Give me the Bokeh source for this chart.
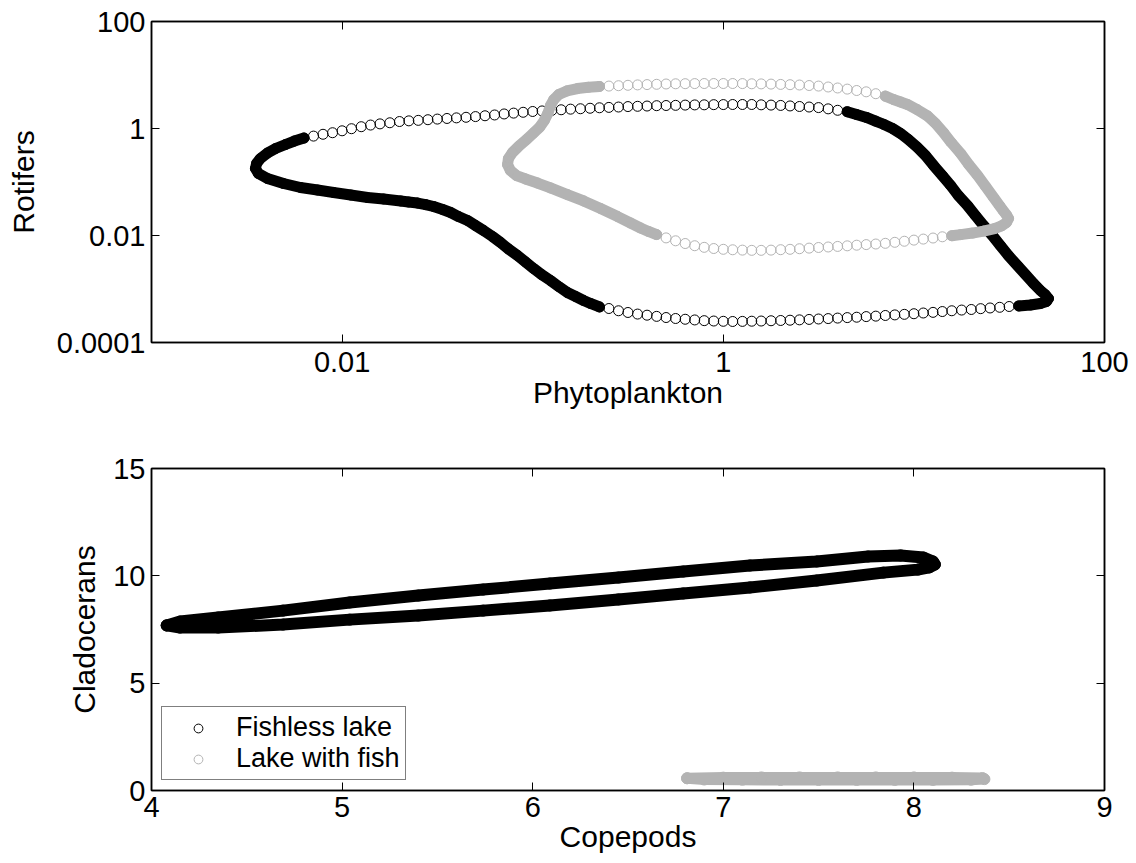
from bokeh.plotting import figure
from bokeh.models import (FixedTicker, LogAxis, LinearAxis, Legend, LegendItem,
                          CustomJSTickFormatter, Range1d)
from bokeh.layouts import column
from bokeh.embed import file_html
from bokeh.resources import INLINE

FONT = "Liberation Sans"
BLACK = "#000000"
GRAY = "#b3b3b3"

# ---------------- Phytoplankton vs rotifers (log-log) ----------------
# Fishless lake: upper arc (fast phase)
fl_up_phyto = [0.00631, 0.00708, 0.00794, 0.00891, 0.0100, 0.0112, 0.0126, 0.0141, 0.0158, 0.0178,
               0.0200, 0.0224, 0.0251, 0.0282, 0.0316, 0.0355, 0.0398, 0.0447, 0.0501, 0.0562,
               0.0631, 0.0708, 0.0794, 0.0891, 0.100, 0.112, 0.126, 0.141, 0.158, 0.178,
               0.200, 0.224, 0.251, 0.282, 0.316, 0.355, 0.398, 0.447, 0.501, 0.562,
               0.631, 0.708, 0.794, 0.891, 1.00, 1.12, 1.26, 1.41, 1.58, 1.78,
               2.00, 2.24, 2.51, 2.82, 3.16, 3.55, 3.98, 4.47]
fl_up_rot = [0.664, 0.721, 0.780, 0.834, 0.906, 0.991, 1.08, 1.16, 1.22, 1.28,
             1.35, 1.39, 1.42, 1.46, 1.50, 1.54, 1.58, 1.62, 1.67, 1.73,
             1.79, 1.87, 1.94, 2.01, 2.08, 2.13, 2.18, 2.24, 2.30, 2.34,
             2.39, 2.44, 2.48, 2.52, 2.57, 2.60, 2.63, 2.67, 2.69, 2.71,
             2.74, 2.76, 2.77, 2.79, 2.80, 2.81, 2.81, 2.81, 2.77, 2.74,
             2.70, 2.64, 2.58, 2.52, 2.46, 2.33, 2.19, 2.06]
# Fishless lake: right-hand descent (slow phase)
fl_right_phyto = [5.00, 5.64, 6.29, 6.93, 7.73, 8.51, 9.37, 10.4, 11.5, 12.7,
                  14.1, 15.6, 17.1, 19.1, 21.0, 23.2, 25.8, 28.4, 31.3, 34.9,
                  38.5, 42.4, 46.1, 49.0, 50.8, 49.6, 46.1, 40.9]
fl_right_rot = [1.83, 1.61, 1.38, 1.20, 1.00, 0.807, 0.622, 0.447, 0.313, 0.203,
                0.132, 0.0861, 0.0560, 0.0364, 0.0237, 0.0154, 0.0100, 0.00650, 0.00423, 0.00275,
                0.00187, 0.00127, 0.000938, 0.000773, 0.000664, 0.000583, 0.000536, 0.000502]
# Fishless lake: lower arc (fast phase)
fl_low_phyto = [35.5, 31.6, 28.2, 25.1, 22.4, 20.0, 17.8, 15.8, 14.1, 12.6,
                11.2, 10.0, 8.91, 7.94, 7.08, 6.31, 5.62, 5.01, 4.47, 3.98,
                3.55, 3.16, 2.82, 2.51, 2.24, 2.00, 1.78, 1.58, 1.41, 1.26,
                1.12, 1.00, 0.891, 0.794, 0.708, 0.631, 0.562, 0.501, 0.447, 0.398,
                0.355, 0.316, 0.282, 0.251, 0.224]
fl_low_rot = [0.000483, 0.000471, 0.000455, 0.000442, 0.000429, 0.000414, 0.000404, 0.000392, 0.000379, 0.000366,
              0.000356, 0.000345, 0.000336, 0.000328, 0.000320, 0.000311, 0.000305, 0.000297, 0.000292, 0.000286,
              0.000280, 0.000275, 0.000270, 0.000265, 0.000261, 0.000258, 0.000255, 0.000252, 0.000250, 0.000248,
              0.000247, 0.000249, 0.000252, 0.000256, 0.000264, 0.000272, 0.000281, 0.000293, 0.000308, 0.000324,
              0.000340, 0.000364, 0.000392, 0.000432, 0.000462]
# Fishless lake: left-hand rise through the minimum of phytoplankton (slow phase)
fl_left_phyto = [0.201, 0.185, 0.168, 0.152, 0.137, 0.124, 0.111, 0.101, 0.0917, 0.0832,
                 0.0746, 0.0678, 0.0615, 0.0552, 0.0501, 0.0455, 0.0408, 0.0371, 0.0337, 0.0302,
                 0.0274, 0.0249, 0.0223, 0.0203, 0.0165, 0.0136, 0.0111, 0.00902, 0.00743, 0.00605,
                 0.00493, 0.00406, 0.00364, 0.00351, 0.00356, 0.00373, 0.00406, 0.00448, 0.00505, 0.00562]
fl_left_rot = [0.000536, 0.000610, 0.000724, 0.000861, 0.00111, 0.00144, 0.00187, 0.00242, 0.00320, 0.00423,
               0.00560, 0.00740, 0.00957, 0.0124, 0.0154, 0.0191, 0.0226, 0.0269, 0.0306, 0.0348,
               0.0379, 0.0404, 0.0423, 0.0442, 0.0481, 0.0513, 0.0571, 0.0637, 0.0708, 0.0789,
               0.0937, 0.116, 0.144, 0.179, 0.222, 0.275, 0.348, 0.423, 0.502, 0.583]

# Lake with fish: upper arc (fast phase)
wf_up_phyto = [0.224, 0.251, 0.282, 0.316, 0.355, 0.398, 0.447, 0.501, 0.562, 0.631,
               0.708, 0.794, 0.891, 1.00, 1.12, 1.26, 1.41, 1.58, 1.78, 2.00,
               2.24, 2.51, 2.82, 3.16, 3.55, 3.98, 4.47, 5.01, 5.62, 6.31, 7.08]
wf_up_rot = [6.10, 6.21, 6.31, 6.42, 6.53, 6.62, 6.70, 6.79, 6.85, 6.88,
             6.91, 6.93, 6.93, 6.93, 6.93, 6.91, 6.85, 6.82, 6.76, 6.67,
             6.59, 6.50, 6.36, 6.21, 5.97, 5.72, 5.45, 5.13, 4.85, 4.47, 4.03]
# Lake with fish: right-hand descent (slow phase)
wf_right_phyto = [7.81, 8.51, 9.25, 10.4, 11.8, 13.0, 14.3, 15.7, 17.6, 19.4,
                  21.6, 23.8, 26.2, 28.1, 29.5, 30.6, 31.4, 30.6, 28.8, 26.5,
                  23.2, 20.3, 17.6]
wf_right_rot = [3.48, 3.13, 2.81, 2.26, 1.71, 1.24, 0.841, 0.547, 0.341, 0.212,
                0.132, 0.0824, 0.0513, 0.0364, 0.0287, 0.0242, 0.0208, 0.0175, 0.0151, 0.0135,
                0.0121, 0.0111, 0.0104]
# Lake with fish: lower arc (fast phase)
wf_low_phyto = [15.8, 14.1, 12.6, 11.2, 10.0, 8.91, 7.94, 7.08, 6.31, 5.62,
                5.01, 4.47, 3.98, 3.55, 3.16, 2.82, 2.51, 2.24, 2.00, 1.78,
                1.58, 1.41, 1.26, 1.12, 1.00, 0.891, 0.794, 0.708, 0.631, 0.562,
                0.501, 0.447]
wf_low_rot = [0.00991, 0.00946, 0.00897, 0.00857, 0.00820, 0.00781, 0.00746, 0.00714, 0.00693, 0.00676,
              0.00659, 0.00641, 0.00625, 0.00610, 0.00597, 0.00581, 0.00566, 0.00552, 0.00543, 0.00533,
              0.00528, 0.00528, 0.00533, 0.00541, 0.00552, 0.00571, 0.00601, 0.00644, 0.00708, 0.00796,
              0.00902, 0.0104]
# Lake with fish: left-hand turn (slow phase)
wf_left_phyto = [0.405, 0.368, 0.326, 0.279, 0.227, 0.185, 0.152, 0.124, 0.106, 0.0917,
                 0.0822, 0.0764, 0.0738, 0.0746, 0.0783, 0.0843, 0.0927, 0.101, 0.109, 0.115,
                 0.120, 0.124, 0.129, 0.137, 0.151, 0.172, 0.196]
wf_left_rot = [0.0119, 0.0138, 0.0171, 0.0226, 0.0320, 0.0442, 0.0583, 0.0773, 0.0957, 0.114,
               0.132, 0.164, 0.212, 0.275, 0.356, 0.461, 0.622, 0.824, 1.07, 1.41,
               1.91, 2.69, 3.48, 4.32, 5.03, 5.59, 5.89]

# ---------------- Copepods vs cladocerans (linear) ----------------
fl_copepods = [4.08, 4.15, 4.35, 4.69, 5.04, 5.40, 5.74, 6.09, 6.45, 6.79,
               7.14, 7.49, 7.76, 7.93, 8.05, 8.10, 8.11, 8.08, 8.02, 7.84,
               7.49, 7.14, 6.79, 6.45, 6.09, 5.74, 5.40, 5.04, 4.69, 4.35,
               4.15, 4.08]
fl_cladocerans = [7.69, 7.87, 8.06, 8.38, 8.76, 9.08, 9.36, 9.64, 9.92, 10.20,
                  10.48, 10.67, 10.90, 10.95, 10.85, 10.67, 10.53, 10.39, 10.29, 10.15,
                  9.78, 9.46, 9.18, 8.90, 8.62, 8.38, 8.15, 7.96, 7.73, 7.59,
                  7.59, 7.69]
wf_copepods = [6.81, 7.00, 7.20, 7.40, 7.60, 7.80, 8.00, 8.20, 8.36, 8.37,
               8.30, 8.10, 7.90, 7.70, 7.50, 7.30, 7.10, 6.90, 6.81]
wf_cladocerans = [0.57, 0.60, 0.61, 0.61, 0.61, 0.61, 0.61, 0.60, 0.58, 0.53,
                  0.50, 0.49, 0.49, 0.49, 0.49, 0.49, 0.50, 0.51, 0.57]

top_xticks = [0.01, 1, 100]
top_yticks = [0.0001, 0.01, 1, 100]
bot_xticks = [4, 5, 6, 7, 8, 9]
bot_yticks = [0, 5, 10, 15]

fmt_code = "return String(tick);"


def style_axis(ax, ticks, standoff, label_standoff=0, show_labels=True):
    ax.ticker = FixedTicker(ticks=ticks)
    ax.major_tick_in = 8
    ax.major_tick_out = 0
    ax.minor_tick_in = 0
    ax.minor_tick_out = 0
    ax.axis_line_color = BLACK
    ax.axis_line_width = 1.5
    ax.major_tick_line_color = BLACK
    ax.major_tick_line_width = 1
    ax.formatter = CustomJSTickFormatter(code=fmt_code)
    ax.major_label_text_font = FONT
    ax.axis_label_text_font = FONT
    ax.axis_label_text_font_size = "30px"
    ax.axis_label_text_font_style = "normal"
    ax.axis_label_text_color = BLACK
    ax.axis_label_standoff = label_standoff
    if show_labels:
        ax.major_label_text_color = BLACK
        ax.major_label_text_font_size = "29px"
        ax.major_label_standoff = standoff
    else:
        # mirrored box side: tick marks only, no tick text painted
        ax.major_label_text_color = None
        ax.major_label_text_font_size = "1px"
        ax.major_label_standoff = 0


def base_fig(height, top, bottom, **kw):
    p = figure(width=1136, height=height, output_backend="svg", toolbar_location=None,
               min_border_left=151, min_border_right=32, min_border_top=top,
               min_border_bottom=bottom, **kw)
    p.grid.visible = False
    p.outline_line_color = BLACK
    p.outline_line_width = 1.5
    p.background_fill_color = "white"
    p.border_fill_color = "white"
    return p


def slow_line(p, xs, ys, color, width):
    p.line(xs, ys, line_color=color, line_width=width, line_cap="round", line_join="round")


def rings(p, xs, ys, color, size):
    return p.scatter(xs, ys, marker="circle", size=size, fill_color=None,
                     line_color=color, line_width=1)


# ---- top panel ----
p1 = base_fig(432, 21, 90, x_axis_type="log", y_axis_type="log",
              x_range=Range1d(1e-3, 1e2), y_range=Range1d(1e-4, 1e2))
style_axis(p1.xaxis[0], top_xticks, 9, 1)
style_axis(p1.yaxis[0], top_yticks, 6, 14)
p1.xaxis[0].axis_label = "Phytoplankton"
p1.yaxis[0].axis_label = "Rotifers"
ax_r = LogAxis()
style_axis(ax_r, top_yticks, 0, show_labels=False)
p1.add_layout(ax_r, "right")
ax_t = LogAxis()
style_axis(ax_t, top_xticks, 0, show_labels=False)
p1.add_layout(ax_t, "above")

for color, up_x, up_y, r_x, r_y, lo_x, lo_y, le_x, le_y in [
    (BLACK, fl_up_phyto, fl_up_rot, fl_right_phyto, fl_right_rot,
     fl_low_phyto, fl_low_rot, fl_left_phyto, fl_left_rot),
    (GRAY, wf_up_phyto, wf_up_rot, wf_right_phyto, wf_right_rot,
     wf_low_phyto, wf_low_rot, wf_left_phyto, wf_left_rot),
]:
    slow_line(p1, up_x[-1:] + r_x + lo_x[:1], up_y[-1:] + r_y + lo_y[:1], color, 11)
    slow_line(p1, lo_x[-1:] + le_x + up_x[:1], lo_y[-1:] + le_y + up_y[:1], color, 11)
    rings(p1, up_x + r_x + lo_x + le_x, up_y + r_y + lo_y + le_y, color, 10)

# ---- bottom panel ----
p2 = base_fig(431, 36, 73, x_range=Range1d(4, 9), y_range=Range1d(0, 15))
style_axis(p2.xaxis[0], bot_xticks, 6, 0)
style_axis(p2.yaxis[0], bot_yticks, 6, 9)
p2.xaxis[0].axis_label = "Copepods"
p2.yaxis[0].axis_label = "Cladocerans"
ax_r2 = LinearAxis()
style_axis(ax_r2, bot_yticks, 0, show_labels=False)
p2.add_layout(ax_r2, "right")
ax_t2 = LinearAxis()
style_axis(ax_t2, bot_xticks, 0, show_labels=False)
p2.add_layout(ax_t2, "above")

slow_line(p2, fl_copepods, fl_cladocerans, BLACK, 12)
r_fl = rings(p2, fl_copepods, fl_cladocerans, BLACK, 11)
slow_line(p2, wf_copepods, wf_cladocerans, GRAY, 11)
r_wf = rings(p2, wf_copepods, wf_cladocerans, GRAY, 11)

legend = Legend(items=[LegendItem(label="Fishless lake", renderers=[r_fl]),
                       LegendItem(label="Lake with fish", renderers=[r_wf])],
                location=(10, 10), padding=5, spacing=0, margin=0,
                glyph_width=62, glyph_height=22, label_height=28, label_standoff=7,
                label_text_font=FONT, label_text_font_size="27px", label_text_color=BLACK,
                border_line_color=BLACK, border_line_width=1,
                background_fill_color="white", background_fill_alpha=1)
p2.add_layout(legend)

layout = column(p1, p2, spacing=0)
open("out.html", "w").write(file_html(layout, INLINE))
